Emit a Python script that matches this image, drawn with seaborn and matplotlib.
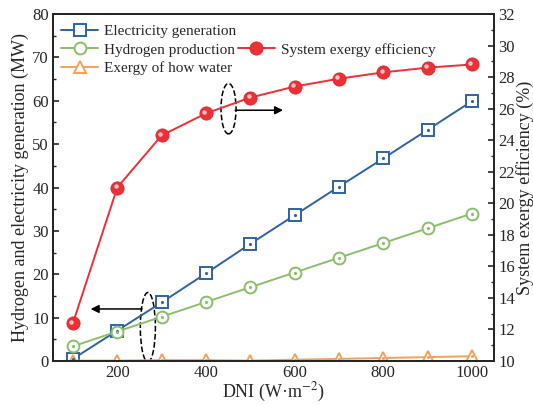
import numpy as np
import pandas as pd
import seaborn as sns
import matplotlib
matplotlib.use("Agg")
import matplotlib.pyplot as plt
from matplotlib.patches import Ellipse
from matplotlib.transforms import offset_copy

dni = [100, 200, 300, 400, 500, 600, 700, 800, 900, 1000]
electricity = [0.5, 7.0, 13.5, 20.2, 27.0, 33.6, 40.2, 46.7, 53.3, 59.9]
hydrogen = [3.4, 6.8, 10.2, 13.6, 17.0, 20.4, 23.8, 27.2, 30.6, 34.0]
hot_water = [0.1, 0.1, 0.2, 0.2, 0.1, 0.3, 0.5, 0.7, 0.9, 1.1]
exergy_eff = [12.4, 21.0, 24.3, 25.7, 26.7, 27.4, 27.9, 28.3, 28.6, 28.8]

sns.set_style("ticks")
plt.rcParams["font.family"] = ["Liberation Serif", "DejaVu Serif"]
plt.rcParams["mathtext.fontset"] = "stix"

fig = plt.figure(figsize=(5.33, 4.05), dpi=100)
ax = fig.add_axes([0.0994, 0.1086, 0.8276, 0.8568])
ax2 = ax.twinx()

c_el, c_h2, c_hw, c_ex = "#2e62a0", "#8cbd6a", "#f4a15c", "#ec3036"

df = pd.DataFrame({"DNI": dni, "el": electricity, "h2": hydrogen, "hw": hot_water, "ex": exergy_eff})

sns.lineplot(data=df, x="DNI", y="el", ax=ax, color=c_el, marker="s", markersize=8,
             markerfacecolor="white", markeredgecolor=c_el, markeredgewidth=1.4, lw=1.4,
             label="Electricity generation")
sns.lineplot(data=df, x="DNI", y="h2", ax=ax, color=c_h2, marker="o", markersize=8.5,
             markerfacecolor="white", markeredgecolor=c_h2, markeredgewidth=1.4, lw=1.4,
             label="Hydrogen production")
sns.lineplot(data=df, x="DNI", y="hw", ax=ax, color=c_hw, marker="^", markersize=9,
             markerfacecolor="white", markeredgecolor=c_hw, markeredgewidth=1.4, lw=1.4,
             label="Exergy of how water")
# centre dots inside hollow markers
for col, y in [(c_el, electricity), (c_h2, hydrogen), (c_hw, hot_water)]:
    ax.plot(dni, y, ls="none", marker=".", markersize=2.5, color=col)

sns.lineplot(data=df, x="DNI", y="ex", ax=ax2, color=c_ex, marker="o", markersize=9.5,
             markerfacecolor=c_ex, markeredgecolor="#d42a30", markeredgewidth=0.6, lw=1.4,
             label="System exergy efficiency")
# glossy highlight on the sphere markers
hl = offset_copy(ax2.transData, fig=fig, x=-1.5, y=1.5, units="dots")
ax2.plot(dni, exergy_eff, ls="none", marker="o", markersize=3.2, color="#ffc4c4",
         markeredgewidth=0, transform=hl)

ax.set_xlim(55, 1050)
ax.set_ylim(0, 80)
ax2.set_ylim(10, 32)
ax.set_xticks([200, 400, 600, 800, 1000])
ax.set_xticks(range(100, 1001, 100), minor=True)
ax.set_yticks(range(0, 81, 10))
ax.set_yticks(range(0, 81, 5), minor=True)
ax2.set_yticks(range(10, 33, 2))
ax2.set_yticks(range(10, 33, 1), minor=True)

for a in (ax, ax2):
    a.tick_params(direction="in", labelsize=12, width=1.2, length=4, pad=3)
    a.tick_params(which="minor", direction="in", width=1, length=2.5)
    for s in a.spines.values():
        s.set_linewidth(1.4)
        s.set_visible(True)

ax.set_xlabel("DNI (W·m$^{-2}$)", fontsize=13, labelpad=0)
ax.set_ylabel("Hydrogen and electricity generation (MW)", fontsize=13, labelpad=2)
ax2.set_ylabel("System exergy efficiency (%)", fontsize=13, labelpad=1)

h1, l1 = ax.get_legend_handles_labels()
h2, l2 = ax2.get_legend_handles_labels()
ax2.get_legend().remove()
ax.get_legend().remove()
blank = plt.Line2D([], [], ls="none")
handles = [h1[0], h1[1], h1[2], blank, h2[0], blank]
labels = [l1[0], l1[1], l1[2], "", l2[0], ""]
leg = ax2.legend(handles, labels, ncol=2, loc="upper left", bbox_to_anchor=(-0.005, 1.0),
                 frameon=False, fontsize=11, handlelength=2.4, handletextpad=0.4,
                 columnspacing=0.1, labelspacing=0.3, borderaxespad=0.3)

# callout ellipses and arrows
ax2.add_patch(Ellipse((451, 26.0), 34, 3.2, fill=False, ls="--", lw=1.1, color="black"))
ax2.annotate("", xy=(574, 25.9), xytext=(466, 25.9),
             arrowprops=dict(arrowstyle="-|>", color="black", lw=1.1, mutation_scale=12,
                             shrinkA=0, shrinkB=0))
ax.add_patch(Ellipse((269, 7.8), 34, 16.0, fill=False, ls="--", lw=1.1, color="black"))
ax.annotate("", xy=(140, 12.0), xytext=(256, 12.0),
            arrowprops=dict(arrowstyle="-|>", color="black", lw=1.1, mutation_scale=12,
                            shrinkA=0, shrinkB=0))

fig.savefig("out.png", dpi=100)
